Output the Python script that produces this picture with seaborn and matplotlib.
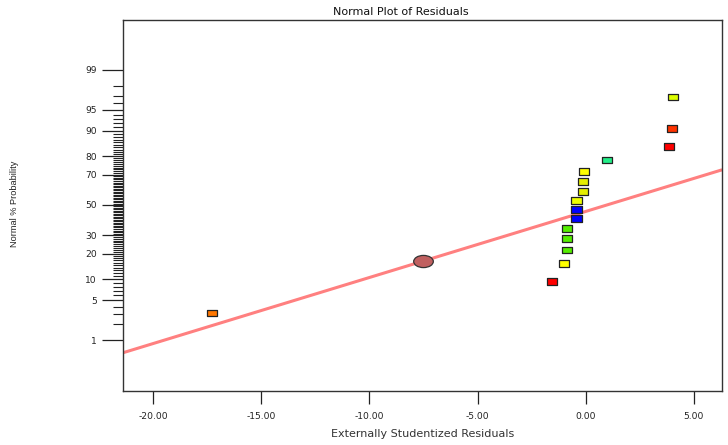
import matplotlib
matplotlib.use("Agg")
import matplotlib.pyplot as plt
import seaborn as sns
import numpy as np
import pandas as pd
from statistics import NormalDist
from matplotlib.path import Path
from matplotlib.ticker import FixedLocator, NullFormatter

# Externally studentized residuals, sorted, with their normal % probability
residuals = [-17.27, -1.55, -1.02, -0.86, -0.86, -0.86, -0.43, -0.43,
             -0.43, -0.14, -0.14, -0.09, 1.00, 3.85, 3.98, 4.04]
normal_pct = [3.125, 9.375, 15.625, 21.875, 28.125, 34.375, 40.625, 46.875,
              53.125, 59.375, 65.625, 71.875, 78.125, 84.375, 90.625, 96.875]
point_colors = ["#FF7700", "#FF0000", "#FFFF00", "#55EE00", "#55EE00",
                "#55EE00", "#0000FF", "#0000FF", "#EEFF00", "#E6EE00",
                "#E6EE00", "#FFFF00", "#22EE88", "#FF0000", "#FF3300",
                "#DDFF00"]

pct_tick_values = [1, 5, 10, 20, 30, 50, 70, 80, 90, 95, 99]
pct_tick_labels = ["1", "5", "10", "20", "30", "50", "70", "80", "90", "95", "99"]
x_tick_values = [-20, -15, -10, -5, 0, 5]
x_tick_labels = ["-20.00", "-15.00", "-10.00", "-5.00", "0.00", "5.00"]

# Fitted normal reference line (residual at 50 %, residual per z unit)
line_center = 0.98
line_scale = 8.79
handle_residual = -7.53

x_limits = (-21.39, 6.28)
z_limits = (-3.205, 3.187)

nd = NormalDist()


def pct_to_z(p):
    return nd.inv_cdf(p / 100.0)


df = pd.DataFrame({
    "residual": residuals,
    "z": [pct_to_z(p) for p in normal_pct],
    "color": point_colors,
})

sns.set_style("white")
plt.rcParams["font.family"] = ["DejaVu Sans"]

fig = plt.figure(figsize=(7.28, 4.45), dpi=100)
ax = fig.add_axes([123.2 / 728, 1 - 391 / 445,
                   (721.5 - 123.2) / 728, (391 - 20) / 445])

# reference line across the full x range
line_x = np.array(x_limits)
line_z = (line_x - line_center) / line_scale
sns.lineplot(x=line_x, y=line_z, ax=ax, color="#FF8080", linewidth=2.2,
             zorder=2)

# draggable handle on the line
ellipse = Path.unit_circle()
ellipse = Path(ellipse.vertices * np.array([1.0, 0.62]), ellipse.codes)
sns.scatterplot(x=[handle_residual],
                y=[(handle_residual - line_center) / line_scale],
                ax=ax, marker=ellipse, s=200, color="#C06060",
                edgecolor="#333333", linewidth=0.9, zorder=4)

# residual points as small rectangles
rect = Path([(-1, -0.65), (1, -0.65), (1, 0.65), (-1, 0.65), (-1, -0.65)],
            [Path.MOVETO, Path.LINETO, Path.LINETO, Path.LINETO,
             Path.CLOSEPOLY])
palette = {c: c for c in point_colors}
sns.scatterplot(data=df, x="residual", y="z", hue="color", palette=palette,
                legend=False, ax=ax, marker=rect, s=55,
                edgecolor="#222222", linewidth=0.9, zorder=5)

ax.set_xlim(*x_limits)
ax.set_ylim(*z_limits)

ax.set_xticks(x_tick_values)
ax.set_xticklabels(x_tick_labels)
ax.set_yticks([pct_to_z(p) for p in pct_tick_values])
ax.set_yticklabels(pct_tick_labels)
minor_pct = [p for p in range(1, 100) if p not in pct_tick_values]
ax.yaxis.set_minor_locator(FixedLocator([pct_to_z(p) for p in minor_pct]))
ax.yaxis.set_minor_formatter(NullFormatter())

ax.tick_params(axis="x", which="major", direction="out", length=9,
               width=0.9, pad=6, labelsize=6.6, colors="#222222",
               bottom=True)
ax.tick_params(axis="y", which="major", direction="out", length=15,
               width=0.9, pad=4, labelsize=6.6, colors="#222222", left=True)
ax.tick_params(axis="y", which="minor", direction="out", length=7,
               width=0.8, colors="#222222", left=True)

for side in ["left", "right", "top", "bottom"]:
    ax.spines[side].set_visible(True)
    ax.spines[side].set_color("#333333")
    ax.spines[side].set_linewidth(1.0)

ax.set_xlabel("Externally Studentized Residuals", fontsize=8.0,
              family="DejaVu Sans", color="#333333")
ax.xaxis.set_label_coords(0.5, (391 - 434) / 371)
ax.xaxis.label.set_va("center")
ax.set_ylabel("Normal % Probability", fontsize=6.6,
              family=["Liberation Sans Narrow", "Liberation Sans"],
              color="#222222")
ax.yaxis.set_label_coords((15 - 123.2) / 598.3, (391 - 204) / 371)
ax.yaxis.label.set_va("center")

fig.text(400.5 / 728, 1 - 12 / 445, "Normal Plot of Residuals",
         ha="center", va="center", fontsize=8.0,
         family="DejaVu Sans", color="#111111")

fig.savefig("out.png", dpi=100)
